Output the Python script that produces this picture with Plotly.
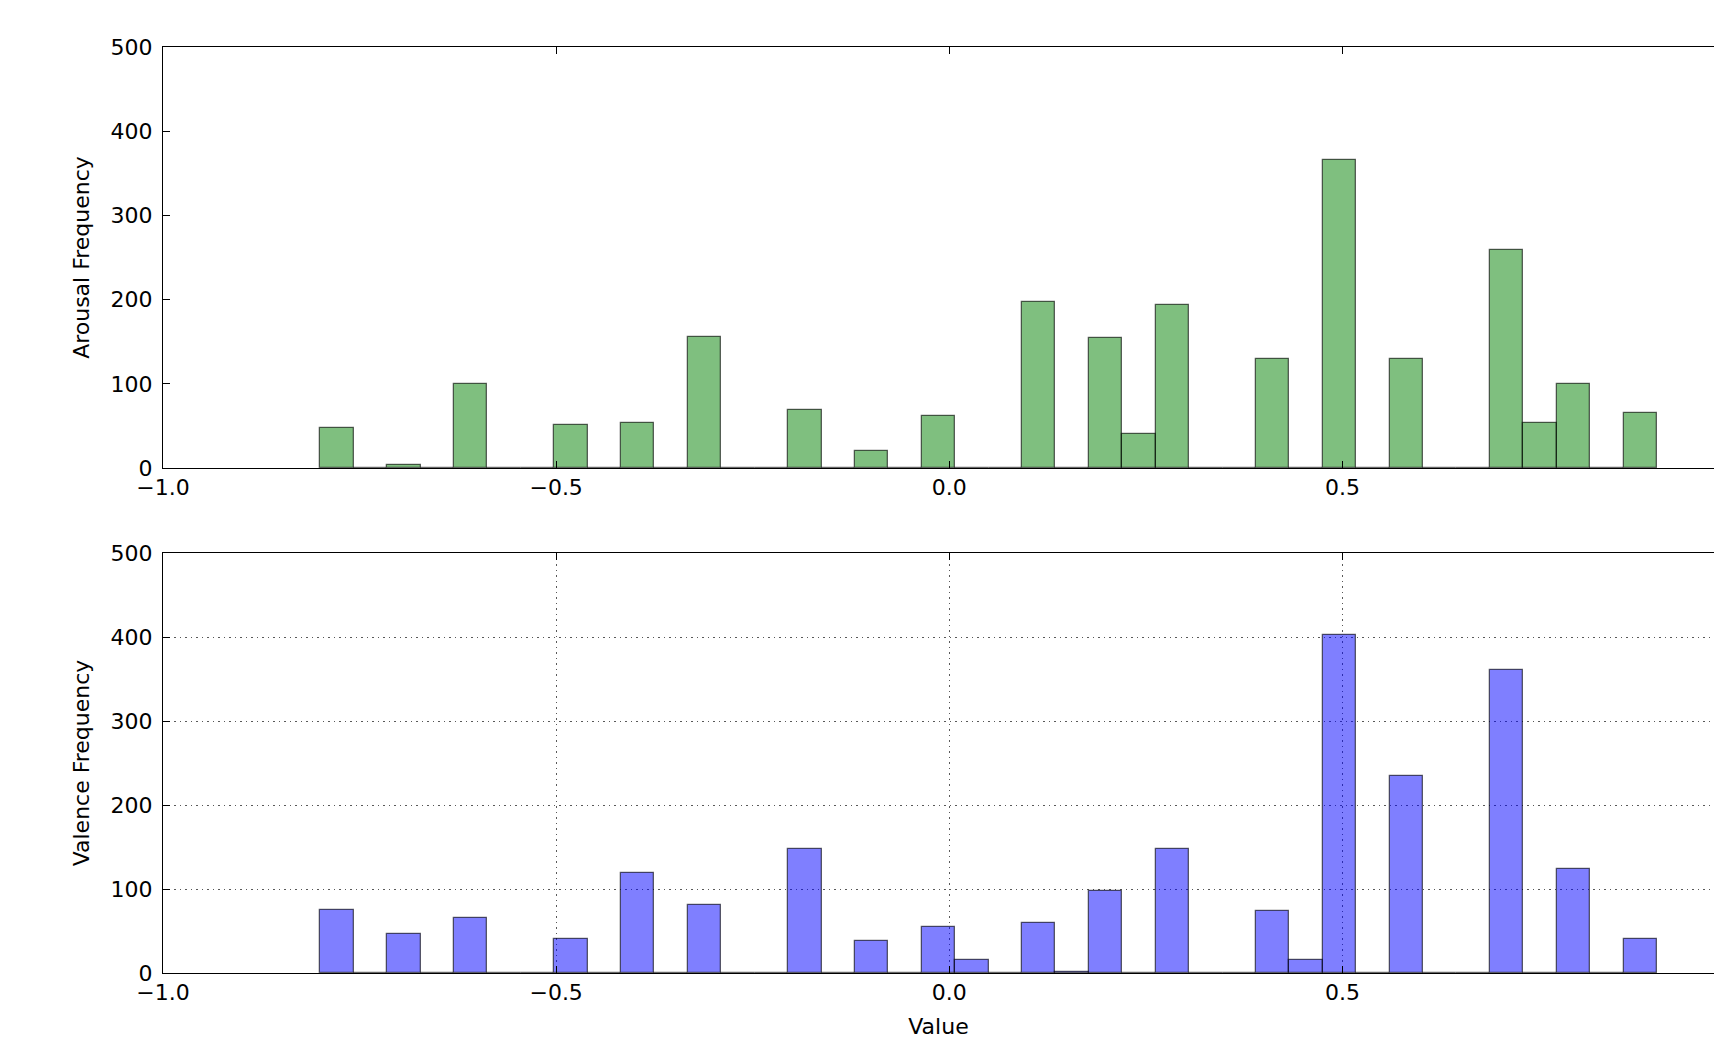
import numpy as np
import plotly.graph_objects as go
from plotly.subplots import make_subplots

# Histogram bins: 40 equal bins from -0.8 to 0.9
bin_start = -0.8
bin_end = 0.9
n_bins = 40

# Counts per bin (bin index 0..39)
arousal_counts = [47, 0, 3, 0, 100, 0, 0, 51, 0, 53,
                  0, 155, 0, 0, 69, 0, 20, 0, 62, 0,
                  0, 197, 0, 154, 40, 194, 0, 0, 129, 0,
                  366, 0, 129, 0, 0, 259, 53, 100, 0, 65]
valence_counts = [75, 0, 46, 0, 65, 0, 0, 41, 0, 119,
                  0, 81, 0, 0, 148, 0, 38, 0, 55, 15,
                  0, 60, 1, 98, 0, 148, 0, 0, 74, 15,
                  402, 0, 234, 0, 0, 361, 0, 124, 0, 41]

x_ticks = [-1.0, -0.5, 0.0, 0.5, 1.0]
y_ticks = [0, 100, 200, 300, 400, 500]

edges = np.linspace(bin_start, bin_end, n_bins + 1)
centers = (edges[:-1] + edges[1:]) / 2
bw = edges[1] - edges[0]

H = 1039
W = 1714
ml = 163
mt, mb = 47, 66
plot_h = H - mt - mb
top_bottom_px = 468
bot_top_px = 553
dom_top = [(H - mb - top_bottom_px) / plot_h, 1.0]
dom_bot = [0.0, (H - mb - bot_top_px) / plot_h]

fig = make_subplots(rows=2, cols=1)

fig.add_trace(go.Bar(x=centers, y=arousal_counts, width=bw,
                     marker=dict(color="rgba(0,128,0,0.5)",
                                 line=dict(color="rgba(0,0,0,0.6)", width=1.3)),
                     showlegend=False), row=1, col=1)
fig.add_trace(go.Bar(x=centers, y=valence_counts, width=bw,
                     marker=dict(color="rgba(0,0,255,0.5)",
                                 line=dict(color="rgba(0,0,0,0.6)", width=1.3)),
                     showlegend=False), row=2, col=1)

font = dict(family="DejaVu Sans", size=22, color="#000000")
xr = [-1.0, -1.0 + (W - ml) / 786.3]

common_x = dict(range=xr, tickvals=x_ticks, tickformat=".1f", ticks="inside",
                ticklen=7, tickwidth=1, tickcolor="#000", showline=True,
                linecolor="#000", linewidth=1.4, mirror="ticks", zeroline=False,
                tickfont=font, ticklabelstandoff=-1)
common_y = dict(range=[0, 500], tickvals=y_ticks, ticks="inside", ticklen=7,
                tickwidth=1, tickcolor="#000", showline=True, linecolor="#000",
                linewidth=1.4, mirror=False, zeroline=False, tickfont=font,
                ticklabelstandoff=5)

grid = dict(gridcolor="rgba(0,0,0,0.65)", griddash="1.5px,4px", gridwidth=1)

fig.update_xaxes(**common_x, showgrid=False, domain=[0, 1], row=1, col=1)
fig.update_xaxes(**common_x, showgrid=True, **grid, domain=[0, 1],
                 title=dict(text="Value", font=font, standoff=16), row=2, col=1)
fig.update_yaxes(**common_y, showgrid=False, domain=dom_top,
                 title=dict(text="Arousal Frequency", font=font, standoff=14),
                 row=1, col=1)
fig.update_yaxes(**common_y, showgrid=True, **grid, domain=dom_bot,
                 title=dict(text="Valence Frequency", font=font, standoff=14),
                 row=2, col=1)

fig.update_layout(width=W, height=H, margin=dict(l=ml, r=0, t=mt, b=mb),
                  plot_bgcolor="white", paper_bgcolor="white", bargap=0,
                  font=font)

fig.write_html("out.html",
               config={"displayModeBar": False},
               post_script="document.body.style.margin='0';"
                           "document.body.style.overflow='hidden';")
